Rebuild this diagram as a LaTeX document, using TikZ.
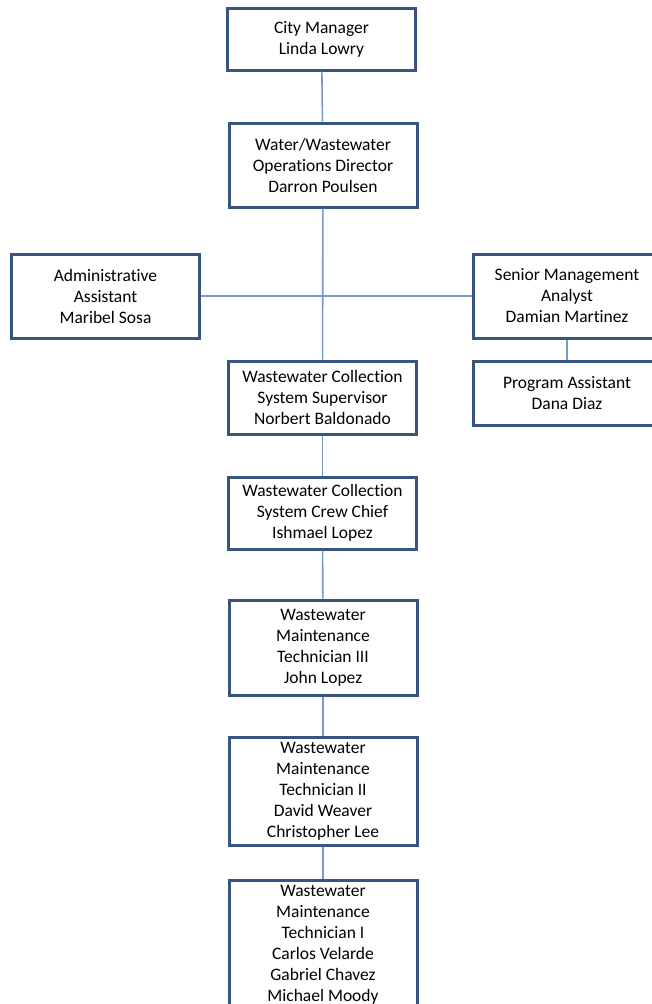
\documentclass[tikz,border=0pt]{standalone}
\usepackage{fontspec}
\setmainfont{Carlito}[Ligatures=NoCommon]
\usetikzlibrary{shadows}

\definecolor{boxline}{RGB}{56,86,125}
\definecolor{linkline}{RGB}{115,155,205}

\tikzset{
  post/.style={draw=boxline, line width=3pt, fill=white, inner sep=0pt,
    minimum width=188pt, align=center,
    font=\fontsize{17.5}{21}\selectfont,
    drop shadow={shadow xshift=1.2pt, shadow yshift=-1.2pt, opacity=.35}},
  link/.style={draw=linkline, line width=1.6pt}
}

\begin{document}
\begin{tikzpicture}[x=1pt,y=-1pt]

  \useasboundingbox (0,0) rectangle (652,1004);
  \clip (0,0) rectangle (652,1004);

  % posts
  \node[post, minimum height=62pt]  (cm)    at (321.5,39)  {City Manager\\Linda Lowry};
  \node[post, minimum height=84pt]  (dir)   at (323,165)   {Water/Wastewater\\Operations Director\\Darron Poulsen};
  \node[post, minimum height=84pt]  (admin) at (105.5,296) {Administrative\\Assistant\\Maribel Sosa};
  \node[post, minimum height=84pt]  (sma)   at (567,296)   {Senior Management\\Analyst\\Damian Martinez};
  \node[post, minimum height=64pt]  (pa)    at (567,393)   {Program Assistant\\Dana Diaz};
  \node[post, minimum height=73pt]  (sup)   at (322.5,397.5) {Wastewater Collection\\System Supervisor\\Norbert Baldonado};
  \node[post, minimum height=72pt]  (chief) at (322.5,513) {Wastewater Collection\\System Crew Chief\\Ishmael Lopez};
  \node[post, minimum height=95pt]  (t3)    at (323,647.5) {Wastewater\\Maintenance\\Technician III\\John Lopez};
  \node[post, minimum height=108pt] (t2)    at (323,791)   {Wastewater\\Maintenance\\Technician II\\David Weaver\\Christopher Lee};
  \node[post, minimum height=129pt] (t1)    at (323,944.5) {Wastewater\\Maintenance\\Technician I\\Carlos Velarde\\Gabriel Chavez\\Michael Moody};

  % lines
  \path[link] (cm) -- (dir);
  \path[link] (dir) -- (sup);
  \path[link] (admin) -- (sma);
  \path[link] (sma) -- (pa);
  \path[link] (sup) -- (chief);
  \path[link] (chief) -- (t3);
  \path[link] (t3) -- (t2);
  \path[link] (t2) -- (t1);

\end{tikzpicture}
\end{document}
